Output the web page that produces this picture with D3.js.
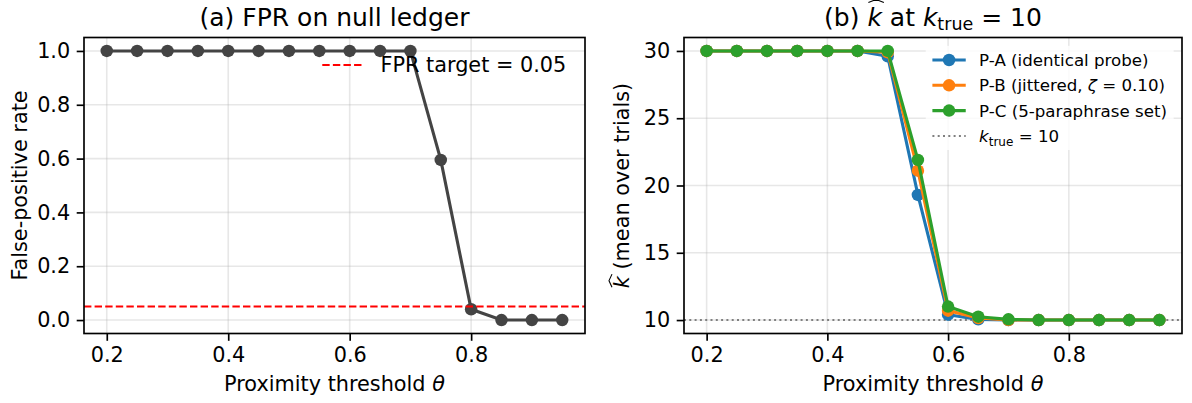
<!DOCTYPE html>
<html><head><meta charset="utf-8">
<script src="https://cdn.jsdelivr.net/npm/d3@7"></script>
<style>
html,body{margin:0;padding:0;background:#fff;}
svg text{font-family:"DejaVu Sans",sans-serif;}
</style></head>
<body><svg id="c" width="1192" height="403"></svg>
<script>
const thetas = [0.2,0.25,0.3,0.35,0.4,0.45,0.5,0.55,0.6,0.65,0.7,0.75,0.8,0.85,0.9,0.95];
const fpr    = [1,1,1,1,1,1,1,1,1,1,1,0.595,0.04,0,0,0];
const fprTarget = 0.05;
const seriesNames = ["P-A (identical probe)","P-B (jittered, ζ = 0.10)","P-C (5-paraphrase set)"];
const pA = [30,30,30,30,30,30,29.6,19.3,10.4,10.05,10,10,10,10,10,10];
const pB = [30,30,30,30,30,30,29.9,21.1,10.7,10.15,10,10,10,10,10,10];
const pC = [30,30,30,30,30,30,30,21.9,11.0,10.25,10.05,10,10,10,10,10];
const kTrue = 10;
const xTicks = [0.2,0.4,0.6,0.8];
const yTicksA = [0,0.2,0.4,0.6,0.8,1.0];
const yTicksB = [10,15,20,25,30];

const svg = d3.select("#c");
const FS = 20.8, TFS = 25, LFS = 16.67;
const TL = 7.3, LW = 3.1, R = 6.25, SW = 1.67;
const colors = ["#1f77b4","#ff7f0e","#2ca02c"];

function panel(x0,x1,y0,y1,yDomain,yTicks,yFmt){
  const x = d3.scaleLinear().domain([0.1625,0.9875]).range([x0,x1]);
  const y = d3.scaleLinear().domain(yDomain).range([y1,y0]);
  const g = svg.append("g");
  g.selectAll(".gx").data(xTicks).join("line")
    .attr("x1",d=>x(d)).attr("x2",d=>x(d)).attr("y1",y0).attr("y2",y1)
    .attr("stroke","#b0b0b0").attr("stroke-opacity",0.3).attr("stroke-width",1.6);
  g.selectAll(".gy").data(yTicks).join("line")
    .attr("x1",x0).attr("x2",x1).attr("y1",d=>y(d)).attr("y2",d=>y(d))
    .attr("stroke","#b0b0b0").attr("stroke-opacity",0.3).attr("stroke-width",1.6);
  const data = g.append("g");
  const top = svg.append("g");
  const ax = top.append("g").attr("transform",`translate(0,${y1})`)
    .call(d3.axisBottom(x).tickValues(xTicks).tickFormat(d3.format(".1f")).tickSizeInner(TL).tickSizeOuter(0).tickPadding(6.5));
  const ay = top.append("g").attr("transform",`translate(${x0},0)`)
    .call(d3.axisLeft(y).tickValues(yTicks).tickFormat(yFmt).tickSizeInner(TL).tickSizeOuter(0).tickPadding(6.5));
  [ax,ay].forEach(a=>{
    a.select(".domain").remove();
    a.selectAll("line").attr("stroke","#000").attr("stroke-width",SW);
    a.selectAll("text").attr("font-size",FS).attr("fill","#000").attr("font-family","DejaVu Sans");
  });
  top.append("rect").attr("x",x0).attr("y",y0).attr("width",x1-x0).attr("height",y1-y0)
    .attr("fill","none").attr("stroke","#000").attr("stroke-width",SW);
  return {x,y,data,top,x0,x1,y0,y1};
}

// ---------- Panel (a)
const A = panel(84,585,37.5,333.5,[-0.05,1.05],yTicksA,d3.format(".1f"));
A.data.append("path").datum(thetas.map((t,i)=>[t,fpr[i]]))
  .attr("d",d3.line().x(d=>A.x(d[0])).y(d=>A.y(d[1])))
  .attr("fill","none").attr("stroke","#444").attr("stroke-width",LW);
A.data.selectAll("circle").data(thetas.map((t,i)=>[t,fpr[i]])).join("circle")
  .attr("cx",d=>A.x(d[0])).attr("cy",d=>A.y(d[1])).attr("r",R).attr("fill","#444");
A.data.append("line").attr("x1",A.x0).attr("x2",A.x1).attr("y1",A.y(fprTarget)).attr("y2",A.y(fprTarget))
  .attr("stroke","#ff0000").attr("stroke-width",2).attr("stroke-dasharray","7.4,3.2");
// legend (a), no frame
{
  const t = A.top.append("text").attr("y",72).attr("font-size",FS).text("FPR target = "+fprTarget.toFixed(2));
  const w = t.node().getComputedTextLength();
  const tx = A.x1 - 0.5*FS - 0.4*FS - w;
  t.attr("x",tx);
  const hx1 = tx - 0.8*FS, hx0 = hx1 - 2*FS;
  A.top.append("line").attr("x1",hx0).attr("x2",hx1).attr("y1",65).attr("y2",65)
    .attr("stroke","#ff0000").attr("stroke-width",2).attr("stroke-dasharray","7.4,3.2");
}
svg.append("text").attr("x",(A.x0+A.x1)/2).attr("y",25.5).attr("text-anchor","middle").attr("font-size",TFS).text("(a) FPR on null ledger");
svg.append("text").attr("x",(A.x0+A.x1)/2).attr("y",391).attr("text-anchor","middle").attr("font-size",FS)
  .html('Proximity threshold <tspan font-style="italic">θ</tspan>');
svg.append("text").attr("transform",`translate(27,${(A.y0+A.y1)/2}) rotate(-90)`).attr("text-anchor","middle").attr("font-size",FS)
  .text("False-positive rate");

// ---------- Panel (b)
const B = panel(684,1182,37.5,333.5,[9,31],yTicksB,d3.format("d"));
B.data.append("line").attr("x1",B.x0).attr("x2",B.x1).attr("y1",B.y(kTrue)).attr("y2",B.y(kTrue))
  .attr("stroke","#808080").attr("stroke-width",2).attr("stroke-dasharray","2,3.3");
[pA,pB,pC].forEach((s,k)=>{
  const pts = thetas.map((t,i)=>[t,s[i]]);
  const gg = B.data.append("g");
  gg.append("path").datum(pts).attr("d",d3.line().x(d=>B.x(d[0])).y(d=>B.y(d[1])))
    .attr("fill","none").attr("stroke",colors[k]).attr("stroke-width",LW);
  gg.selectAll("circle").data(pts).join("circle")
    .attr("cx",d=>B.x(d[0])).attr("cy",d=>B.y(d[1])).attr("r",R).attr("fill",colors[k]);
});
// legend (b)
{
  const lg = B.top.append("g");
  const box = lg.append("rect");
  const rowY = [60,85.3,110.6,136];
  const texts = [];
  texts.push(lg.append("text").attr("font-size",LFS).text(seriesNames[0]));
  texts.push(lg.append("text").attr("font-size",LFS).html('P-B (jittered, <tspan font-style="italic">ζ</tspan> = 0.10)'));
  texts.push(lg.append("text").attr("font-size",LFS).text(seriesNames[2]));
  texts.push(lg.append("text").attr("font-size",LFS)
    .html('<tspan font-style="italic">k</tspan><tspan font-size="12" dy="3.5">true</tspan><tspan dy="-3.5"> = 10</tspan>'));
  const maxW = d3.max(texts, t=>t.node().getComputedTextLength());
  const tx = B.x1 - 0.5*LFS - 0.4*LFS - maxW;
  const hx1 = tx - 0.8*LFS, hx0 = hx1 - 2*LFS;
  texts.forEach((t,i)=>t.attr("x",tx).attr("y",rowY[i]+6));
  box.attr("x",hx0-0.4*LFS).attr("y",B.y0+0.5*LFS).attr("width",B.x1-0.5*LFS-(hx0-0.4*LFS)).attr("height",rowY[3]+14-(B.y0+0.5*LFS))
    .attr("fill","#fff").attr("fill-opacity",0.8);
  box.lower();
  colors.forEach((c,k)=>{
    lg.append("line").attr("x1",hx0).attr("x2",hx1).attr("y1",rowY[k]).attr("y2",rowY[k]).attr("stroke",c).attr("stroke-width",LW);
    lg.append("circle").attr("cx",(hx0+hx1)/2).attr("cy",rowY[k]).attr("r",R).attr("fill",c);
  });
  lg.append("line").attr("x1",hx0).attr("x2",hx1).attr("y1",rowY[3]).attr("y2",rowY[3])
    .attr("stroke","#808080").attr("stroke-width",2).attr("stroke-dasharray","2,3.3");
}

function hatOver(textSel, idx, parent, lift){
  const e = textSel.node().getExtentOfChar(idx);
  const yb = e.y + 3 - lift;
  parent.append("path")
    .attr("d",`M${e.x+1},${yb} L${e.x+e.width/2+1.5},${yb-3} L${e.x+e.width+2},${yb}`)
    .attr("fill","none").attr("stroke","#000").attr("stroke-width",1.1);
}
const bc = (B.x0+B.x1)/2;
const tb = svg.append("text").attr("x",bc).attr("y",25.5).attr("text-anchor","middle").attr("font-size",TFS)
  .html('(b) <tspan font-style="italic">k</tspan> at <tspan font-style="italic">k</tspan><tspan font-size="17.5" dy="4">true</tspan><tspan dy="-4"> = 10</tspan>');
hatOver(tb,4,svg,3);
svg.append("text").attr("x",bc).attr("y",391).attr("text-anchor","middle").attr("font-size",FS)
  .html('Proximity threshold <tspan font-style="italic">θ</tspan>');
const yl = svg.append("g").attr("transform",`translate(629,${(B.y0+B.y1)/2}) rotate(-90)`);
const ylt = yl.append("text").attr("x",0).attr("y",0).attr("text-anchor","middle").attr("font-size",FS)
  .html('<tspan font-style="italic">k</tspan> (mean over trials)');
hatOver(ylt,0,yl,1);
</script></body></html>
